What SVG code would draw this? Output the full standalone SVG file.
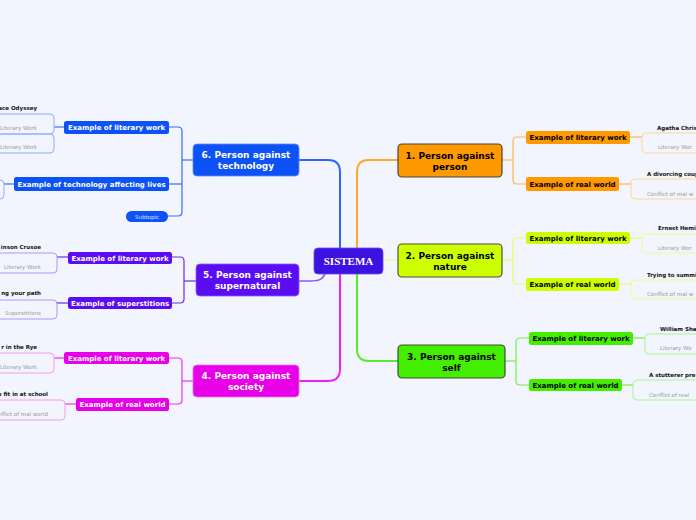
<svg xmlns="http://www.w3.org/2000/svg" width="696" height="520" viewBox="0 0 696 520">
<style>
.bg{fill:#f2f5fd}
.main{font-family:"DejaVu Sans",Verdana,sans-serif;font-weight:bold;font-size:9px;text-anchor:middle}
.sub{font-family:"DejaVu Sans",Verdana,sans-serif;font-weight:bold;font-size:7px;text-anchor:middle}
.ttl{font-family:"DejaVu Sans",Verdana,sans-serif;font-weight:bold;font-size:5.5px;fill:#111}
.lbl{font-family:"DejaVu Sans",Verdana,sans-serif;font-size:5.5px;fill:#9a9a9a}
.w{fill:#fff}.k{fill:#000}
.c{fill:none;stroke-linecap:round}
.box{stroke-width:1}
</style>
<rect class="bg" x="0" y="0" width="696" height="520"/>
<g id="connectors">
  <path class="c" d="M357,248 V172 Q357,160 369,160 H398" stroke="#ffa726" stroke-width="2"/>
  <path class="c" d="M340,248 V172 Q340,160 328,160 H299" stroke="#2f63ff" stroke-width="2"/>
  <path class="c" d="M325,273 C323,280 318,281 310,281 H298" stroke="#8a55f5" stroke-width="1.5"/>
  <path class="c" d="M340,274 V369 Q340,381 328,381 H299" stroke="#ee22ee" stroke-width="2"/>
  <path class="c" d="M357,274 V349 Q357,361 369,361 H398" stroke="#55ee22" stroke-width="2"/>
  <path class="c" d="M383,260 H398" stroke="#e2ff88" stroke-width="1.5"/>
  <g stroke="#ffb84d" stroke-width="1.2" fill="none">
    <path d="M502,160 H513"/><path d="M526,137 H517 Q513,137 513,141 V180 Q513,184 517,184 H526"/>
    <path d="M630,137 H642"/><path d="M619,184 H631"/>
  </g>
  <g stroke="#dfff66" stroke-width="1.2" fill="none">
    <path d="M502,260 H513"/><path d="M526,238 H517 Q513,238 513,242 V280 Q513,284 517,284 H526"/>
    <path d="M630,238 H642"/><path d="M619,284 H631"/>
  </g>
  <g stroke="#77f044" stroke-width="1.2" fill="none">
    <path d="M505,361 H516"/><path d="M529,338 H520 Q516,338 516,342 V381 Q516,385 520,385 H529"/>
    <path d="M633,338 H645"/><path d="M622,385 H633"/>
  </g>
  <g stroke="#3a6cff" stroke-width="1.2" fill="none">
    <path d="M193,160 H182"/><path d="M169,127 H178 Q182,127 182,131 V212 Q182,216 178,216 H168"/>
    <path d="M169,184 H182"/><path d="M64,127 H54"/><path d="M14,184 H4"/>
  </g>
  <g stroke="#6a2cf2" stroke-width="1.2" fill="none">
    <path d="M196,281 H184"/><path d="M172,257 H180 Q184,257 184,261 V299 Q184,303 180,303 H172"/>
    <path d="M68,257 H57"/><path d="M68,303 H57"/>
  </g>
  <g stroke="#ee33ee" stroke-width="1.2" fill="none">
    <path d="M193,381 H182"/><path d="M169,358 H178 Q182,358 182,362 V400 Q182,404 178,404 H169"/>
    <path d="M64,358 H54"/><path d="M76,404 H65"/>
  </g>
</g>
<g id="center">
  <rect x="314" y="248" width="69" height="26" rx="4" fill="#3c12e0" stroke="#6a4af0" stroke-width="0.8"/>
  <text x="348.5" y="265" font-family="'Liberation Serif',serif" font-weight="bold" font-size="11" fill="#fff" text-anchor="middle">SISTEMA</text>
</g>
<g id="n1">
  <rect x="398" y="144" width="104" height="33" rx="4" fill="#ff9900" stroke="#4d4438" stroke-width="1.2"/>
  <text class="main k" x="450" y="158.5">1. Person against</text>
  <text class="main k" x="450" y="169.5">person</text>
</g>
<g id="n1a">
  <rect x="526" y="131" width="104" height="13" rx="2.5" fill="#ff9900"/>
  <text class="sub k" x="578" y="140">Example of literary work</text>
</g>
<g id="n1a1">
  <rect class="box" x="642" y="133" width="80" height="20" rx="4" fill="none" stroke="#ffd595"/>
  <text class="ttl" x="657" y="130">Agatha Chris</text>
  <text class="lbl" x="658" y="149">Literary Wor</text>
</g>
<g id="n1b">
  <rect x="526" y="177" width="93" height="14" rx="2.5" fill="#ff9900"/>
  <text class="sub k" x="572.5" y="186.5">Example of real world</text>
</g>
<g id="n1b1">
  <rect class="box" x="631" y="179" width="90" height="20" rx="4" fill="none" stroke="#ffd595"/>
  <text class="ttl" x="647" y="176">A divorcing coup</text>
  <text class="lbl" x="647" y="196">Conflict of real w</text>
</g>
<g id="n2">
  <rect x="398" y="244" width="104" height="33" rx="4" fill="#ccff00" stroke="#4d4d38" stroke-width="1.2"/>
  <text class="main k" x="450" y="258.5">2. Person against</text>
  <text class="main k" x="450" y="269.5">nature</text>
</g>
<g id="n2a">
  <rect x="526" y="232" width="104" height="12" rx="2.5" fill="#ccff00"/>
  <text class="sub k" x="578" y="240.5">Example of literary work</text>
</g>
<g id="n2a1">
  <rect class="box" x="642" y="234" width="80" height="19" rx="4" fill="none" stroke="#e8ff8a"/>
  <text class="ttl" x="658" y="230">Ernest Hemi</text>
  <text class="lbl" x="658" y="250">Literary Wor</text>
</g>
<g id="n2b">
  <rect x="526" y="278" width="93" height="13" rx="2.5" fill="#ccff00"/>
  <text class="sub k" x="572.5" y="287">Example of real world</text>
</g>
<g id="n2b1">
  <rect class="box" x="631" y="280" width="90" height="19" rx="4" fill="none" stroke="#e8ff8a"/>
  <text class="ttl" x="647" y="277">Trying to summi</text>
  <text class="lbl" x="647" y="296">Conflict of real w</text>
</g>
<g id="n3">
  <rect x="398" y="345" width="107" height="33" rx="4" fill="#44ee00" stroke="#3d4d38" stroke-width="1.2"/>
  <text class="main k" x="451.5" y="359.5">3. Person against</text>
  <text class="main k" x="451.5" y="370.5">self</text>
</g>
<g id="n3a">
  <rect x="529" y="332" width="104" height="13" rx="2.5" fill="#44ee00"/>
  <text class="sub k" x="581" y="341">Example of literary work</text>
</g>
<g id="n3a1">
  <rect class="box" x="645" y="334" width="80" height="20" rx="4" fill="none" stroke="#a8f590"/>
  <text class="ttl" x="660" y="331">William Sha</text>
  <text class="lbl" x="660" y="350">Literary Wo</text>
</g>
<g id="n3b">
  <rect x="529" y="379" width="93" height="12" rx="2.5" fill="#44ee00"/>
  <text class="sub k" x="575.5" y="387.5">Example of real world</text>
</g>
<g id="n3b1">
  <rect class="box" x="633" y="380" width="90" height="20" rx="4" fill="none" stroke="#a8f590"/>
  <text class="ttl" x="649" y="377">A stutterer pre</text>
  <text class="lbl" x="649" y="397">Conflict of real</text>
</g>
<g id="n6">
  <rect x="193" y="144" width="106" height="32" rx="4" fill="#0d52f5" stroke="#5f8cff" stroke-width="0.8"/>
  <text class="main w" x="246" y="158">6. Person against</text>
  <text class="main w" x="246" y="169">technology</text>
</g>
<g id="n6a">
  <rect x="64" y="121" width="105" height="13" rx="2.5" fill="#0d52f5"/>
  <text class="sub w" x="116.5" y="130">Example of literary work</text>
</g>
<g id="n6a1">
  <rect class="box" x="-30" y="114" width="84" height="20" rx="4" fill="none" stroke="#8eabff"/>
  <rect class="box" x="-30" y="134" width="84" height="19" rx="4" fill="none" stroke="#8eabff"/>
  <text class="ttl" x="37" y="110" text-anchor="end">ace Odyssey</text>
  <text class="lbl" x="37" y="130" text-anchor="end">Literary Work</text>
  <text class="lbl" x="37" y="149" text-anchor="end">Literary Work</text>
</g>
<g id="n6b">
  <rect x="14" y="177" width="155" height="14" rx="2.5" fill="#0d52f5"/>
  <text class="sub w" x="91.5" y="186.5">Example of technology affecting lives</text>
</g>
<g id="n6b1">
  <rect class="box" x="-30" y="180" width="34" height="19" rx="4" fill="none" stroke="#8eabff"/>
</g>
<g id="n6c">
  <rect x="126" y="211" width="42" height="11" rx="5.5" fill="#0d52f5"/>
  <text class="lbl" x="147" y="218.5" text-anchor="middle" style="fill:#d8e0ff">Subtopic</text>
</g>
<g id="n5">
  <rect x="196" y="264" width="103" height="32" rx="4" fill="#5a0cf2" stroke="#8a5cf5" stroke-width="0.8"/>
  <text class="main w" x="247.5" y="278">5. Person against</text>
  <text class="main w" x="247.5" y="289">supernatural</text>
</g>
<g id="n5a">
  <rect x="68" y="252" width="104" height="12" rx="2.5" fill="#5a0cf2"/>
  <text class="sub w" x="120" y="260.5">Example of literary work</text>
</g>
<g id="n5a1">
  <rect class="box" x="-30" y="253" width="87" height="20" rx="4" fill="none" stroke="#b394ff"/>
  <text class="ttl" x="41" y="249" text-anchor="end">inson Crusoe</text>
  <text class="lbl" x="41" y="269" text-anchor="end">Literary Work</text>
</g>
<g id="n5b">
  <rect x="68" y="297" width="104" height="12" rx="2.5" fill="#5a0cf2"/>
  <text class="sub w" x="120" y="305.5">Example of superstitions</text>
</g>
<g id="n5b1">
  <rect class="box" x="-30" y="300" width="87" height="19" rx="4" fill="none" stroke="#b394ff"/>
  <text class="ttl" x="41" y="295" text-anchor="end">ng your path</text>
  <text class="lbl" x="41" y="315" text-anchor="end">Superstitions</text>
</g>
<g id="n4">
  <rect x="193" y="365" width="106" height="32" rx="4" fill="#e800e8" stroke="#f070f0" stroke-width="0.8"/>
  <text class="main w" x="246" y="379">4. Person against</text>
  <text class="main w" x="246" y="390">society</text>
</g>
<g id="n4a">
  <rect x="64" y="352" width="105" height="12" rx="2.5" fill="#e800e8"/>
  <text class="sub w" x="116.5" y="360.5">Example of literary work</text>
</g>
<g id="n4a1">
  <rect class="box" x="-30" y="353" width="84" height="20" rx="4" fill="none" stroke="#f29cf2"/>
  <text class="ttl" x="37" y="349" text-anchor="end">r in the Rye</text>
  <text class="lbl" x="37" y="369" text-anchor="end">Literary Work</text>
</g>
<g id="n4b">
  <rect x="76" y="398" width="93" height="13" rx="2.5" fill="#e800e8"/>
  <text class="sub w" x="122.5" y="407">Example of real world</text>
</g>
<g id="n4b1">
  <rect class="box" x="-30" y="400" width="95" height="20" rx="4" fill="none" stroke="#f29cf2"/>
  <text class="ttl" x="48" y="396" text-anchor="end">o fit in at school</text>
  <text class="lbl" x="48" y="416" text-anchor="end">nflict of real world</text>
</g>
</svg>
